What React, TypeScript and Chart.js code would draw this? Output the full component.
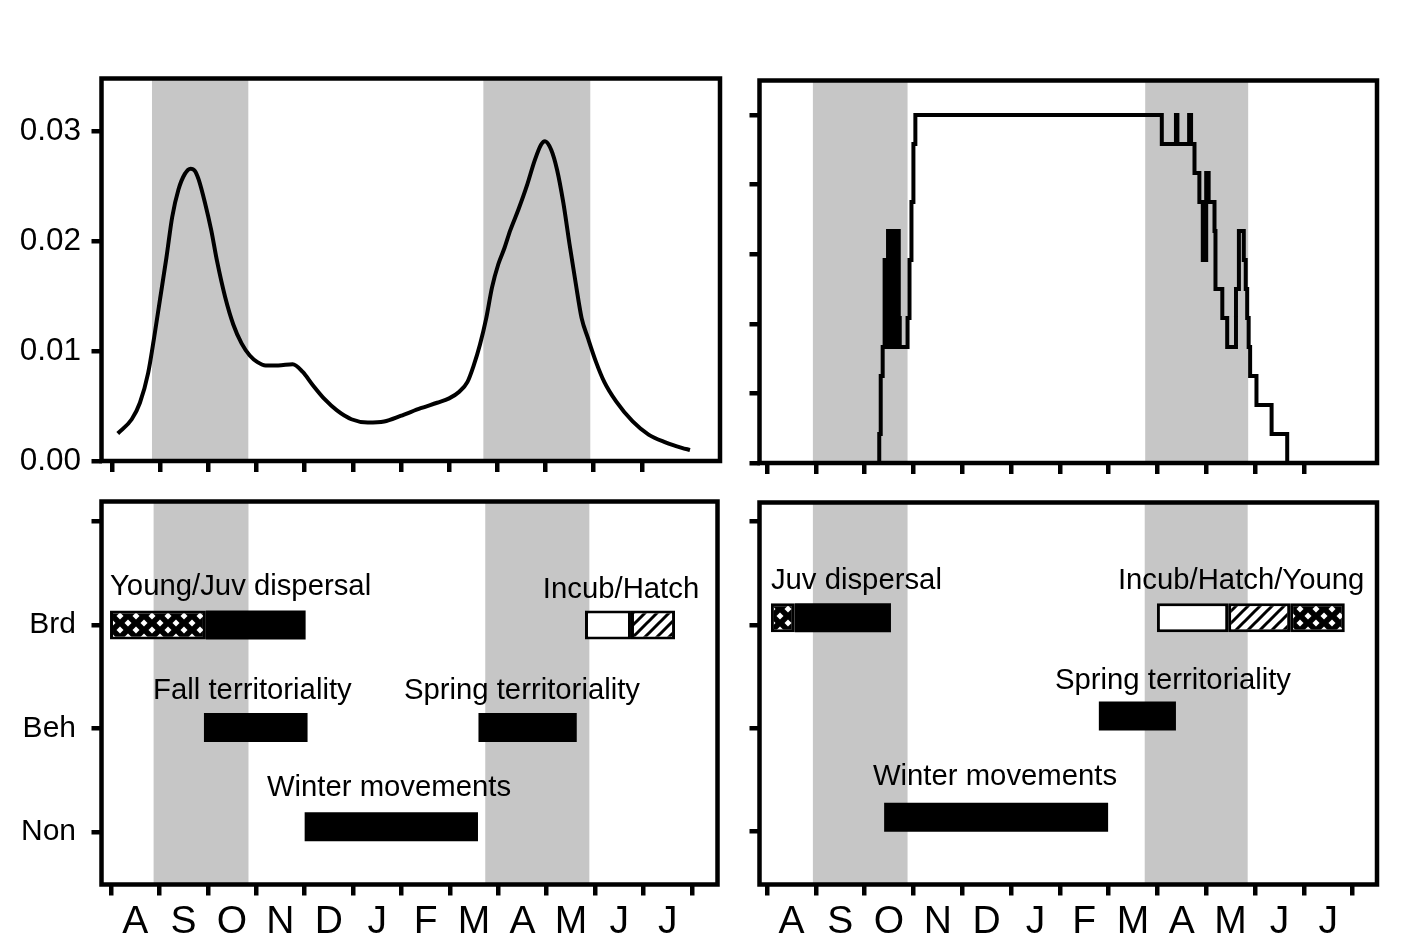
import React, { useEffect, useRef } from "react";
import { Chart, registerables } from "chart.js";

Chart.register(...registerables);

const FONT = "'Liberation Sans', Arial, Helvetica, sans-serif";
const BAND_COLOR = "#c6c6c6";

// ---------------- data ----------------
const MONTH_LABELS = ["A", "S", "O", "N", "D", "J", "F", "M", "A", "M", "J", "J"];
const MONTH_EDGES = [0, 1, 2, 3, 4, 5, 6, 7, 8, 9, 10, 11, 12];
const MONTH_CENTERS = [0.5, 1.5, 2.5, 3.5, 4.5, 5.5, 6.5, 7.5, 8.5, 9.5, 10.5, 11.5];
const ROW_LABELS = ["Non", "Beh", "Brd"];
const ROW_TICKS = [1, 2, 3, 4];

// Top-left: density curve (x = months since 1 Aug)
const DENSITY_MONTH = [
  0.12, 0.41, 0.58, 0.75, 0.87, 1.0, 1.13, 1.25, 1.38, 1.51, 1.63, 1.72, 1.8, 1.93, 2.06, 2.18,
  2.35, 2.52, 2.69, 2.86, 3.02, 3.19, 3.45, 3.75, 3.96, 4.17, 4.42, 4.67, 4.97, 5.31, 5.65, 5.99,
  6.41, 6.75, 7.0, 7.21, 7.38, 7.51, 7.64, 7.77, 7.89, 8.02, 8.15, 8.27, 8.44, 8.61, 8.78, 8.91,
  8.99, 9.12, 9.24, 9.37, 9.5, 9.63, 9.75, 9.88, 10.05, 10.22, 10.47, 10.81, 11.14, 11.49, 11.83, 12.0,
];
const DENSITY_VALUE = [
  0.0025, 0.0038, 0.0053, 0.008, 0.0111, 0.0148, 0.0185, 0.0222, 0.0247, 0.0261, 0.0266, 0.0264,
  0.0256, 0.0235, 0.021, 0.0182, 0.0149, 0.0124, 0.0107, 0.0096, 0.009, 0.0087, 0.0087, 0.0088,
  0.0081, 0.0069, 0.0056, 0.0046, 0.0038, 0.0035, 0.0036, 0.0041, 0.0048, 0.0053, 0.0057, 0.0063,
  0.0072, 0.0087, 0.0106, 0.013, 0.0158, 0.0179, 0.0194, 0.021, 0.0229, 0.025, 0.0274, 0.0288,
  0.0291, 0.0283, 0.0265, 0.0235, 0.0197, 0.0161, 0.013, 0.0112, 0.009, 0.0072, 0.0054, 0.0036,
  0.0024, 0.0017, 0.0012, 0.001,
];
const DENSITY_TICKS = [0, 0.01, 0.02, 0.03];

// Top-right: stepped proportion (count out of 12), level starts at given month
const PROPORTION_MONTH = [
  2.29, 2.3, 2.33, 2.37, 2.41, 2.44, 2.48, 2.52, 2.55, 2.58, 2.61, 2.64, 2.67, 2.7, 2.72, 2.88,
  2.92, 2.96, 3.0, 3.04, 8.09, 8.38, 8.41, 8.65, 8.69, 8.76, 8.86, 8.93, 9.0, 9.05, 9.17, 9.19,
  9.33, 9.43, 9.61, 9.67, 9.77, 9.81, 9.84, 9.87, 9.9, 10.03, 10.34, 10.66,
];
const PROPORTION_COUNT = [
  0, 1, 3, 4, 7, 4, 8, 4, 8, 4, 8, 4, 8, 5, 4, 5, 7, 9, 11, 12, 11, 12, 11, 12, 11, 10, 9, 7, 10, 9,
  8, 6, 5, 4, 6, 8, 7, 6, 5, 4, 3, 2, 1, 0,
];
const PROPORTION_OF = 12;
const PROPORTION_TICKS = [0, 0.2, 0.4, 0.6, 0.8, 1];

// shaded seasons [start month, end month]
const BANDS_TL = [[0.83, 2.83], [7.71, 9.93]];
const BANDS_TR = [[0.94, 2.88], [7.75, 9.86]];
const BANDS_BL = [[0.88, 2.84], [7.73, 9.88]];
const BANDS_BR = [[0.94, 2.88], [7.74, 9.85]];

// bars: [start month, end month, row level]
const BL_SOLID = [[1.96, 4.02, 3], [1.92, 4.06, 2.01], [7.59, 9.62, 2.01], [4.0, 7.58, 1.05]];
const BL_CROSS = [[-0.02, 1.96, 3]];
const BL_OPEN = [[9.79, 10.74, 3]];
const BL_HATCH = [[10.74, 11.65, 3]];

const BR_SOLID = [[0.57, 2.54, 3.07], [6.8, 8.38, 2.12], [2.4, 6.99, 1.14]];
const BR_CROSS = [[0.08, 0.57, 3.07], [10.72, 11.84, 3.07]];
const BR_OPEN = [[7.99, 9.45, 3.07]];
const BR_HATCH = [[9.45, 10.72, 3.07]];

// annotations: [text, month (left edge), row level]
const BL_TEXT: [string, number, number][] = [
  ["Young/Juv dispersal", -0.02, 3.37],
  ["Incub/Hatch", 8.92, 3.34],
  ["Fall territoriality", 0.87, 2.36],
  ["Spring territoriality", 6.05, 2.36],
  ["Winter movements", 3.22, 1.43],
];
const BR_TEXT: [string, number, number][] = [
  ["Juv dispersal", 0.08, 3.43],
  ["Incub/Hatch/Young", 7.19, 3.43],
  ["Spring territoriality", 5.9, 2.46],
  ["Winter movements", 2.17, 1.53],
];

// ---------------- helpers ----------------
function makeCrossPattern(ctx: CanvasRenderingContext2D) {
  const c = document.createElement("canvas");
  c.width = 16;
  c.height = 14;
  const g = c.getContext("2d")!;
  g.fillStyle = "#000";
  g.fillRect(0, 0, 16, 14);
  g.fillStyle = "#fff";
  const d = (cx: number, cy: number) => {
    g.beginPath();
    g.moveTo(cx, cy - 3.5);
    g.lineTo(cx + 3.5, cy);
    g.lineTo(cx, cy + 3.5);
    g.lineTo(cx - 3.5, cy);
    g.closePath();
    g.fill();
  };
  [[8, 0], [8, 14], [0, 7], [16, 7]].forEach(([x, y]) => d(x, y));
  return ctx.createPattern(c, "repeat");
}

function makeHatchPattern(ctx: CanvasRenderingContext2D) {
  const c = document.createElement("canvas");
  c.width = 12;
  c.height = 12;
  const g = c.getContext("2d")!;
  g.fillStyle = "#fff";
  g.fillRect(0, 0, 12, 12);
  g.strokeStyle = "#000";
  g.lineWidth = 3;
  g.beginPath();
  g.moveTo(-2, 14);
  g.lineTo(14, -2);
  g.moveTo(-8, 8);
  g.lineTo(8, -8);
  g.moveTo(4, 20);
  g.lineTo(20, 4);
  g.stroke();
  return ctx.createPattern(c, "repeat");
}

function panelPlugin(bands: number[][], texts: [string, number, number][]) {
  return {
    id: "panelDecor",
    beforeDatasetsDraw(chart: any) {
      const { ctx, chartArea: a, scales } = chart;
      const x = scales.x;
      ctx.save();
      ctx.fillStyle = BAND_COLOR;
      bands.forEach(([s, e]) => {
        const x1 = x.getPixelForValue(s);
        const x2 = x.getPixelForValue(e);
        ctx.fillRect(x1, a.top, x2 - x1, a.bottom - a.top);
      });
      ctx.restore();
    },
    afterDatasetsDraw(chart: any) {
      const { ctx, chartArea: a, scales } = chart;
      ctx.save();
      ctx.fillStyle = "#000";
      ctx.font = `29.3px ${FONT}`;
      ctx.textAlign = "left";
      ctx.textBaseline = "middle";
      texts.forEach(([t, m, r]) => {
        ctx.fillText(t, scales.x.getPixelForValue(m), scales.y.getPixelForValue(r));
      });
      ctx.strokeStyle = "#000";
      ctx.lineWidth = 4.5;
      ctx.lineJoin = "miter";
      ctx.strokeRect(a.left, a.top, a.right - a.left, a.bottom - a.top);
      ctx.restore();
    },
  };
}

function zeroPadding(s: any) {
  s.paddingLeft = 0;
  s.paddingRight = 0;
  s.paddingTop = 0;
  s.paddingBottom = 0;
}

function monthAxis(min: number, max: number, height: number, labelled: boolean) {
  return {
    type: "linear",
    position: "bottom",
    min,
    max,
    offset: false,
    afterBuildTicks: (s: any) => {
      s.ticks = (labelled ? MONTH_CENTERS : MONTH_EDGES).map((v) => ({ value: v }));
    },
    afterFit: (s: any) => {
      s.height = height;
      zeroPadding(s);
    },
    grid: {
      display: true,
      drawOnChartArea: false,
      drawTicks: true,
      tickLength: 11,
      tickWidth: 4.5,
      lineWidth: 4.5,
      tickColor: "#000",
      color: "#000",
      offset: labelled,
    },
    border: { display: false },
    ticks: {
      display: labelled,
      autoSkip: false,
      maxRotation: 0,
      minRotation: 0,
      padding: 7,
      color: "#000",
      font: { family: FONT, size: 39, lineHeight: 1 },
      callback: (_v: any, i: number) => MONTH_LABELS[i],
    },
  };
}

function valueAxis(
  min: number,
  max: number,
  tickValues: number[],
  width: number,
  labelled: boolean,
  padding: number,
  fontSize: number,
  fmt: (v: number) => string
) {
  return {
    type: "linear",
    position: "left",
    min,
    max,
    offset: false,
    afterBuildTicks: (s: any) => {
      s.ticks = tickValues.map((v) => ({ value: v }));
    },
    afterFit: (s: any) => {
      s.width = width;
      zeroPadding(s);
    },
    grid: {
      display: true,
      drawOnChartArea: false,
      drawTicks: true,
      tickLength: 10,
      tickWidth: 4.5,
      lineWidth: 4.5,
      tickColor: "#000",
      color: "#000",
      offset: false,
    },
    border: { display: false },
    ticks: {
      display: labelled,
      padding,
      color: "#000",
      font: { family: FONT, size: fontSize },
      callback: (v: any) => fmt(Number(v)),
    },
  };
}

function baseOptions(padding: any) {
  return {
    responsive: false,
    maintainAspectRatio: false,
    animation: false,
    devicePixelRatio: 1,
    events: [],
    layout: { padding },
    plugins: { legend: { display: false }, tooltip: { enabled: false } },
  };
}

function barDataset(rows: number[][], fill: any, borderWidth: number) {
  return {
    data: rows.map(([s, e, r]) => ({ x: [s, e], y: r })),
    backgroundColor: fill,
    borderColor: "#000",
    borderWidth,
    borderSkipped: false,
    barThickness: 29,
    grouped: false,
    inflateAmount: 0,
  };
}

const rowLabel = (v: number) => ROW_LABELS[Math.round(v) - 1] ?? "";

// ---------------- panel configs ----------------
function buildTopLeft() {
  return {
    type: "line",
    data: {
      datasets: [
        {
          data: DENSITY_MONTH.map((m, i) => ({ x: m, y: DENSITY_VALUE[i] })),
          borderColor: "#000",
          borderWidth: 4,
          pointRadius: 0,
          fill: false,
          cubicInterpolationMode: "monotone",
        },
      ],
    },
    options: {
      ...baseOptions({ left: 0, top: 78.5, right: 20, bottom: 0 }),
      scales: {
        x: monthAxis(-0.218, 12.623, 29, false),
        y: valueAxis(0, 0.0348, DENSITY_TICKS, 101.5, true, 10.5, 31.5, (v) => v.toFixed(2)),
      },
    },
    plugins: [panelPlugin(BANDS_TL, [])],
  };
}

function buildTopRight() {
  return {
    type: "line",
    data: {
      datasets: [
        {
          data: PROPORTION_MONTH.map((m, i) => ({ x: m, y: PROPORTION_COUNT[i] / PROPORTION_OF })),
          borderColor: "#000",
          borderWidth: 4,
          pointRadius: 0,
          fill: false,
          stepped: "before",
        },
      ],
    },
    options: {
      ...baseOptions({ left: 0, top: 80.5, right: 41, bottom: 0 }),
      scales: {
        x: monthAxis(-0.154, 12.5, 27, false),
        y: valueAxis(0, 1.099, PROPORTION_TICKS, 19.5, false, 5, 28, () => ""),
      },
    },
    plugins: [panelPlugin(BANDS_TR, [])],
  };
}

function buildBottom(
  canvas: HTMLCanvasElement,
  solid: number[][],
  cross: number[][],
  open: number[][],
  hatch: number[][],
  bands: number[][],
  texts: [string, number, number][],
  left: boolean
) {
  const ctx = canvas.getContext("2d")!;
  const crossP = makeCrossPattern(ctx);
  const hatchP = makeHatchPattern(ctx);
  return {
    type: "bar",
    data: {
      datasets: [
        barDataset(cross, crossP, 3),
        barDataset(solid, "#000", 0),
        barDataset(open, "#fff", 3),
        barDataset(hatch, hatchP, 3),
      ],
    },
    options: {
      ...baseOptions(
        left
          ? { left: 0, top: 11.5, right: 22.5, bottom: 0 }
          : { left: 0, top: 12.5, right: 41, bottom: 0 }
      ),
      indexAxis: "y",
      scales: {
        x: left ? monthAxis(-0.196, 12.527, 63.5, true) : monthAxis(-0.154, 12.5, 63.5, true),
        y: left
          ? valueAxis(0.493, 4.193, ROW_TICKS, 101.5, true, 15.5, 30, rowLabel)
          : valueAxis(0.489, 4.186, ROW_TICKS, 19.5, false, 5, 30, () => ""),
      },
    },
    plugins: [panelPlugin(bands, texts)],
  };
}

// ---------------- components ----------------
function Panel(props: {
  left: number;
  top: number;
  width: number;
  height: number;
  build: (c: HTMLCanvasElement) => any;
}) {
  const { left, top, width, height, build } = props;
  const ref = useRef<HTMLCanvasElement>(null);
  useEffect(() => {
    const canvas = ref.current!;
    const chart = new Chart(canvas, build(canvas));
    return () => chart.destroy();
  }, []);
  return (
    <div style={{ position: "absolute", left, top, width, height }}>
      <canvas ref={ref} width={width} height={height} style={{ display: "block", width, height }} />
    </div>
  );
}

export default function App() {
  return (
    <div
      style={{
        position: "absolute",
        left: 0,
        top: 0,
        width: 1418,
        height: 948,
        background: "#fff",
        overflow: "hidden",
      }}
    >
      <Panel left={0} top={0} width={740} height={490} build={() => buildTopLeft()} />
      <Panel left={740} top={0} width={678} height={490} build={() => buildTopRight()} />
      <Panel
        left={0}
        top={490}
        width={740}
        height={458}
        build={(c) => buildBottom(c, BL_SOLID, BL_CROSS, BL_OPEN, BL_HATCH, BANDS_BL, BL_TEXT, true)}
      />
      <Panel
        left={740}
        top={490}
        width={678}
        height={458}
        build={(c) => buildBottom(c, BR_SOLID, BR_CROSS, BR_OPEN, BR_HATCH, BANDS_BR, BR_TEXT, false)}
      />
    </div>
  );
}
